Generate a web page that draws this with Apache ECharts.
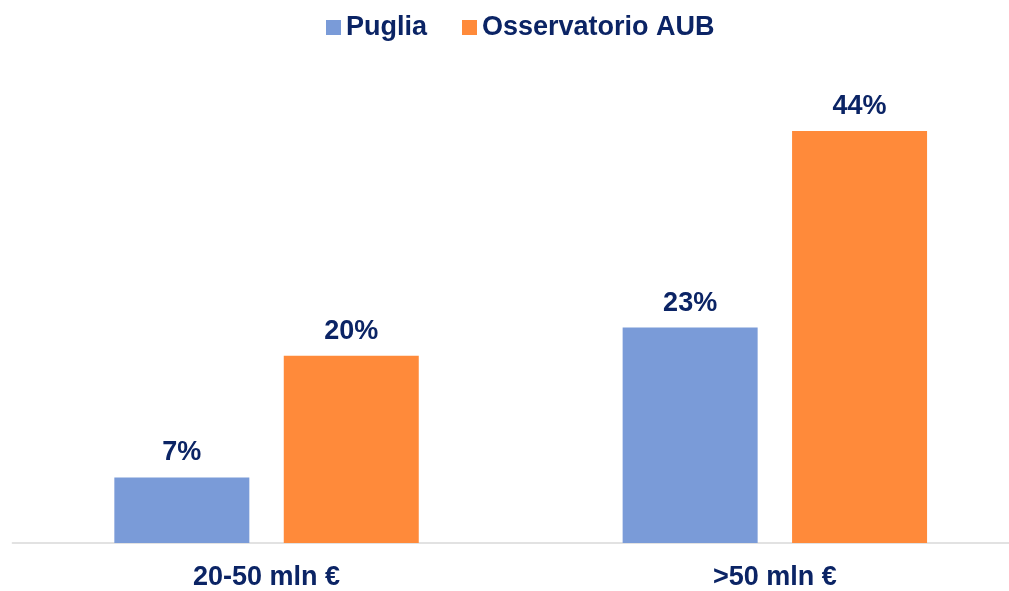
<!DOCTYPE html>
<html>
<head>
<meta charset="utf-8">
<title>Puglia vs Osservatorio AUB</title>
<script src="https://cdn.jsdelivr.net/npm/echarts@6/dist/echarts.min.js"></script>
<style>
  html, body { margin: 0; padding: 0; background: #ffffff; overflow: hidden; }
  /* canvas is a bit wider than the page so the plot area runs off the right edge */
  #chart { width: 1029px; height: 591px; }
</style>
</head>
<body>
<div id="chart"></div>
<script>
// Revenue bands and share of companies (%) per group
const categories = ['20-50 mln €', '>50 mln €'];
const seriesNames = ['Puglia', 'Osservatorio AUB'];
const pugliaValues = [7, 23];
const aubValues = [20, 44];

const navy = '#0B2465';
const fontFamily = '"Liberation Sans", Arial, sans-serif';

const labelStyle = {
  show: true,
  position: 'top',
  distance: 11,
  formatter: p => p.value + '%',
  color: navy,
  fontSize: 27,
  fontWeight: 'bold',
  fontFamily: fontFamily
};

const chart = echarts.init(document.getElementById('chart'), null, { renderer: 'canvas' });
chart.setOption({
  animation: false,
  backgroundColor: '#ffffff',
  legend: {
    top: 9,
    left: 321,
    itemWidth: 15,
    itemHeight: 15,
    itemGap: 35,
    icon: 'rect',
    textStyle: { color: navy, fontSize: 27, fontWeight: 'bold', fontFamily: fontFamily },
    data: seriesNames
  },
  grid: { left: 12.4, right: 0, top: 74.7, height: 470 },
  xAxis: {
    type: 'category',
    data: categories,
    axisLine: { show: true, lineStyle: { color: '#D9D9D9', width: 1.5 } },
    axisTick: { show: false },
    axisLabel: {
      margin: 21,
      color: navy,
      fontSize: 27,
      fontWeight: 'bold',
      fontFamily: fontFamily
    }
  },
  yAxis: {
    type: 'value',
    min: 0,
    max: 50,
    show: false,
    splitLine: { show: false }
  },
  series: [
    {
      name: seriesNames[0],
      type: 'bar',
      data: pugliaValues,
      barWidth: 135,
      barGap: '25.5%',
      itemStyle: { color: '#7A9BD8' },
      label: labelStyle
    },
    {
      name: seriesNames[1],
      type: 'bar',
      data: aubValues,
      barWidth: 135,
      itemStyle: { color: '#FF8A3A' },
      label: labelStyle
    }
  ]
});
</script>
</body>
</html>
